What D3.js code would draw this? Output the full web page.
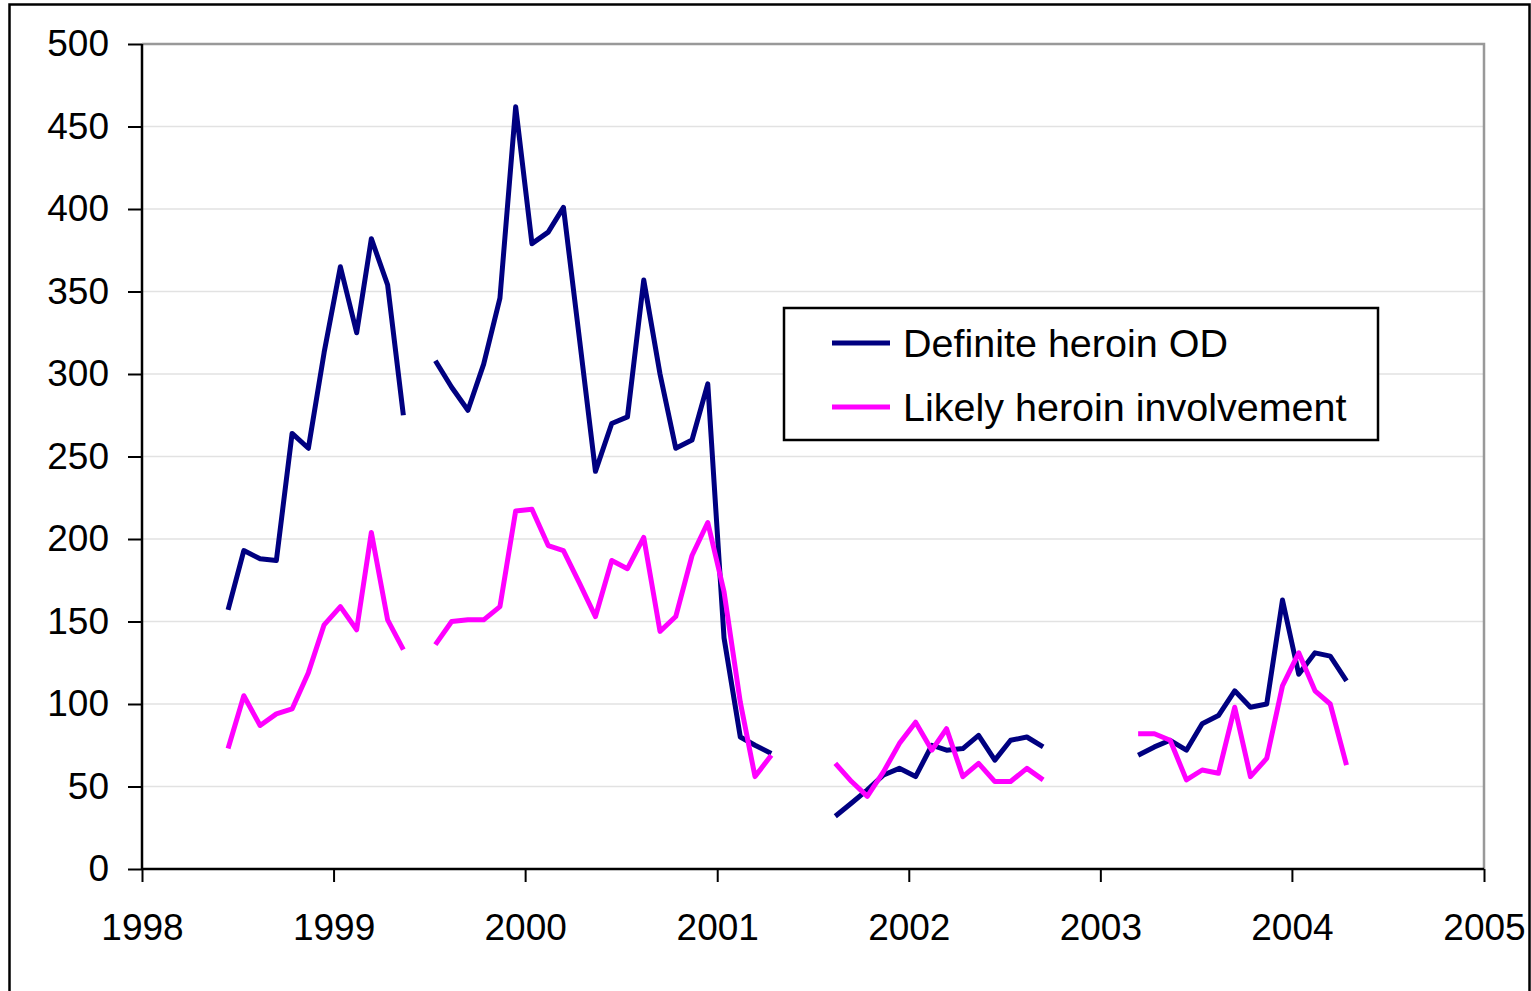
<!DOCTYPE html>
<html>
<head>
<meta charset="utf-8">
<script src="https://cdn.jsdelivr.net/npm/d3@7/dist/d3.min.js"></script>
<style>
  body { margin: 0; background: #fff; }
  svg { display: block; font-family: "Liberation Sans", Arial, sans-serif; }
  .axis path { display: none; }
  .axis line { stroke: #000; stroke-width: 2; }
  .axis text { fill: #000; font-size: 37px; }
  .grid line { stroke: #e2e2e2; stroke-width: 1.5; }
</style>
</head>
<body>
<div id="chart"></div>
<script>
const width = 1531;
const height = 991;

// monthly points, Jun 1998 .. Apr 2004 (null = no data)
const months = [
  '1998-06','1998-07','1998-08','1998-09','1998-10','1998-11','1998-12',
  '1999-01','1999-02','1999-03','1999-04','1999-05','1999-06','1999-07','1999-08','1999-09','1999-10','1999-11','1999-12',
  '2000-01','2000-02','2000-03','2000-04','2000-05','2000-06','2000-07','2000-08','2000-09','2000-10','2000-11','2000-12',
  '2001-01','2001-02','2001-03','2001-04','2001-05','2001-06','2001-07','2001-08','2001-09','2001-10','2001-11','2001-12',
  '2002-01','2002-02','2002-03','2002-04','2002-05','2002-06','2002-07','2002-08','2002-09','2002-10','2002-11','2002-12',
  '2003-01','2003-02','2003-03','2003-04','2003-05','2003-06','2003-07','2003-08','2003-09','2003-10','2003-11','2003-12',
  '2004-01','2004-02','2004-03','2004-04'
];

const definite = [
  157, 193, 188, 187, 264, 255, 313,
  365, 325, 382, 354, 275, null, 308, 292, 278, 306, 346, 462,
  379, 386, 401, 320, 241, 270, 274, 357, 300, 255, 260, 294,
  140, 80, 75, 70, null, null, null, 32, 40, 48, 57, 61,
  56, 75, 72, 73, 81, 66, 78, 80, 74, null, null, null,
  null, null, 69, 74, 78, 72, 88, 93, 108, 98, 100, 163,
  118, 131, 129, 114
];

const likely = [
  73, 105, 87, 94, 97, 119, 148,
  159, 145, 204, 151, 133, null, 136, 150, 151, 151, 159, 217,
  218, 196, 193, 173, 153, 187, 182, 201, 144, 153, 190, 210,
  168, 101, 56, 69, null, null, null, 64, 53, 44, 59, 76,
  89, 72, 85, 56, 64, 53, 53, 61, 54, null, null, null,
  null, null, 82, 82, 78, 54, 60, 58, 98, 56, 67, 111,
  131, 108, 100, 63
];

const seriesNames = ['Definite heroin OD', 'Likely heroin involvement'];
const seriesColors = ['#000080', '#ff00ff'];
const yTicks = [0, 50, 100, 150, 200, 250, 300, 350, 400, 450, 500];
const xYears = [1998, 1999, 2000, 2001, 2002, 2003, 2004, 2005];

const plotLeft = 142, plotRight = 1484, plotTop = 44, plotBottom = 869;

const parseMonth = d3.timeParse('%Y-%m');
// points sit mid-month
const dates = months.map(m => d3.timeDay.offset(parseMonth(m), 13));

const x = d3.scaleTime()
    .domain([new Date(1998, 0, 1), new Date(2005, 0, 1)])
    .range([plotLeft, plotRight]);

const y = d3.scaleLinear()
    .domain([0, 500])
    .range([plotBottom, plotTop]);

const svg = d3.select('#chart')
    .append('svg')
    .attr('width', width)
    .attr('height', height);

// outer frame
svg.append('rect')
    .attr('x', 9.5).attr('y', 4.5)
    .attr('width', 1520).attr('height', 1100)
    .attr('fill', 'none')
    .attr('stroke', '#000')
    .attr('stroke-width', 2.5);

// gridlines
svg.append('g')
    .attr('class', 'grid')
    .selectAll('line')
    .data(yTicks.filter(t => t > 0 && t < 500))
    .join('line')
    .attr('x1', plotLeft).attr('x2', plotRight)
    .attr('y1', d => y(d)).attr('y2', d => y(d));

// plot area border (top and right, gray)
svg.append('path')
    .attr('d', `M${plotLeft},${y(500)}H${plotRight}V${plotBottom}`)
    .attr('fill', 'none')
    .attr('stroke', '#999')
    .attr('stroke-width', 2.5);

// axes
svg.append('g')
    .attr('class', 'axis')
    .attr('transform', `translate(${plotLeft},0)`)
    .call(d3.axisLeft(y).tickValues(yTicks).tickSize(14).tickPadding(19));

svg.append('g')
    .attr('class', 'axis')
    .attr('transform', `translate(0,${plotBottom})`)
    .call(d3.axisBottom(x)
        .tickValues(xYears.map(yr => new Date(yr, 0, 1)))
        .tickFormat(d3.timeFormat('%Y'))
        .tickSize(13)
        .tickPadding(32));

// axis lines
svg.append('line')
    .attr('x1', plotLeft).attr('x2', plotLeft)
    .attr('y1', plotTop).attr('y2', plotBottom)
    .attr('stroke', '#000').attr('stroke-width', 2.5);
svg.append('line')
    .attr('x1', plotLeft).attr('x2', plotRight)
    .attr('y1', plotBottom).attr('y2', plotBottom)
    .attr('stroke', '#000').attr('stroke-width', 2.5);

// series lines
const line = d3.line()
    .defined(d => d.v != null)
    .x(d => x(d.date))
    .y(d => y(d.v));

[definite, likely].forEach((vals, i) => {
    svg.append('path')
        .datum(vals.map((v, j) => ({date: dates[j], v: v})))
        .attr('fill', 'none')
        .attr('stroke', seriesColors[i])
        .attr('stroke-width', 5)
        .attr('stroke-linejoin', 'round')
        .attr('d', line);
});

// legend
const legend = svg.append('g').attr('transform', 'translate(784,308)');
legend.append('rect')
    .attr('width', 594).attr('height', 132)
    .attr('fill', '#fff')
    .attr('stroke', '#000')
    .attr('stroke-width', 2.5);

const item = legend.selectAll('g.item')
    .data(seriesNames)
    .join('g')
    .attr('class', 'item')
    .attr('transform', (d, i) => `translate(0,${35 + i * 64})`);

item.append('line')
    .attr('x1', 48).attr('x2', 106)
    .attr('stroke', (d, i) => seriesColors[i])
    .attr('stroke-width', 5);

item.append('text')
    .attr('x', 119)
    .attr('dy', '0.36em')
    .attr('font-size', 39.5)
    .text(d => d);
</script>
</body>
</html>
